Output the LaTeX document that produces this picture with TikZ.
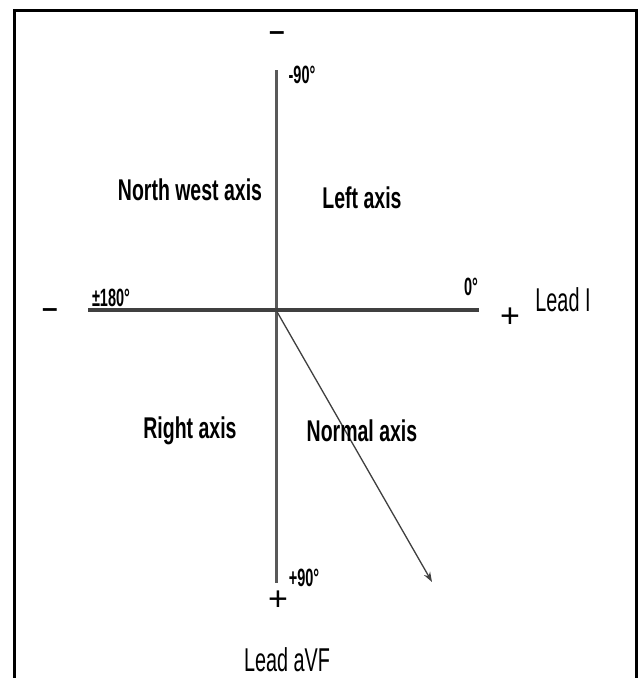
\documentclass[tikz,border=0pt]{standalone}
\usepackage{fontspec}
\setmainfont{Liberation Sans}
\newfontfamily\nb[FakeStretch=0.65]{Liberation Sans}
\newfontfamily\ns[FakeStretch=0.58]{Liberation Sans}
\newfontfamily\nr[FakeStretch=0.6]{Liberation Sans}
\usetikzlibrary{arrows.meta}
\tikzset{
  blab/.style={font=\nb\fontsize{30}{32}\selectfont\bfseries, inner sep=0pt},
  slab/.style={font=\ns\fontsize{25}{27}\selectfont\bfseries, inner sep=0pt},
  rlab/.style={font=\nr\fontsize{33}{35}\selectfont, inner sep=0pt},
  sign/.style={font=\fontsize{34}{36}\selectfont, inner sep=0pt},
  axisline/.style={line width=3pt, draw=black!65},
}
\begin{document}
\begin{tikzpicture}[x=1pt,y=-1pt]
\useasboundingbox (0,0) rectangle (640,678);
\fill[white] (0,0) rectangle (640,678);
\draw[line width=3pt] (14,700) -- (14,10) -- (636,10) -- (636,700);
\coordinate (top) at (276,70);
\coordinate (bot) at (276,583);
\coordinate (lft) at (88,310);
\coordinate (rgt) at (479,310);
\coordinate (o) at (276,310);
\coordinate (tip) at (432,582);
\draw[axisline] (top) -- (bot);
\draw[axisline, line width=3.5pt, draw=black!75] (lft) -- (rgt);
\draw[line width=1.3pt, draw=black!75, -{Stealth[length=10pt,width=7pt]}] (o) -- (tip);
\node[font=\bfseries\fontsize{28}{30}\selectfont, inner sep=0pt] (mtop) at (277,36) {–};
\node[font=\bfseries\fontsize{28}{30}\selectfont, inner sep=0pt] (mleft) at (50,313) {–};
\node[sign] (pright) at (510,318) {+};
\node[sign] (pbot) at (278,601) {+};
\node[rlab] (leadI) at (563,300) {Lead I};
\node[rlab] (leadaVF) at (287,660) {Lead aVF};
\node[slab] (m90) at (302,75) {-90°};
\node[slab] (p90) at (304,578) {+90°};
\node[slab] (p180) at (111,298) {±180°};
\node[slab] (zero) at (471,287) {0°};
\node[blab] (nw) at (190,190) {North west axis};
\node[blab] (la) at (362,198) {Left axis};
\node[blab] (ra) at (190,431) {Right axis};
\node[blab] (na) at (362,431) {Normal axis};
\end{tikzpicture}
\end{document}
